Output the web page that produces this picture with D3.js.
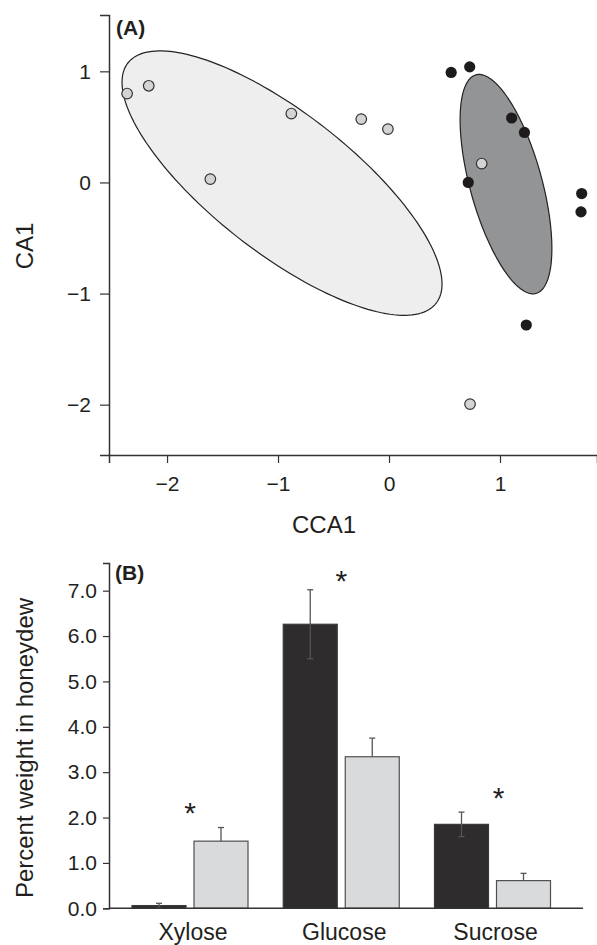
<!DOCTYPE html>
<html><head><meta charset="utf-8">
<script src="https://cdn.jsdelivr.net/npm/d3@7"></script>
<style>
html,body{margin:0;padding:0;background:#fff;}
svg{display:block;font-family:"Liberation Sans",Arial,Helvetica,sans-serif;}
</style></head>
<body>
<svg id="chart" width="597" height="945"></svg>
<script>
// ---------- Panel A data ----------
const lightX = [-2.36, -2.165, -1.61, -0.88, -0.25, -0.01, 0.835, 0.73];
const lightY = [0.80, 0.87, 0.03, 0.62, 0.57, 0.48, 0.17, -1.995];
const darkX  = [0.56, 0.727, 1.105, 1.22, 0.714, 1.736, 1.73, 1.237];
const darkY  = [0.99, 1.04, 0.58, 0.45, 0.0, -0.10, -0.265, -1.283];
// ellipses: centre x, centre y, semi-major, semi-minor, angle (deg, data space)
const ellipseLight = {cx: -0.964, cy: -0.006, a: 1.76, b: 0.63, angle: -37.9};
const ellipseDark  = {cx: 1.054, cy: -0.015, a: 1.02, b: 0.324, angle: -74.6};
const ticksA_x = [-2, -1, 0, 1];
const ticksA_y = [-2, -1, 0, 1];

// ---------- Panel B data ----------
const sugars = ["Xylose", "Glucose", "Sucrose"];
const seriesB = ["dark", "light"];
const meanDark  = [0.06, 6.26, 1.85];
const errDark   = [0.05, 0.76, 0.27];
const meanLight = [1.48, 3.34, 0.61];
const errLight  = [0.30, 0.41, 0.16];
const starY     = [2.24, 7.35, 2.57];
const starShift = [0, 0, 6];
const ticksB_y  = [0, 1, 2, 3, 4, 5, 6, 7];

const svg = d3.select("#chart");
const ink = "#231f20";

// ================= Panel A =================
const xA = d3.scaleLinear().domain([-2.523, 1.874]).range([109, 597]);
const yA = d3.scaleLinear().domain([-2.453, 1.507]).range([455, 15]);

function ellipsePts(e) {
  const th = e.angle * Math.PI / 180;
  return d3.range(0, 360, 2).map(d => {
    const t = d * Math.PI / 180;
    const ex = e.a * Math.cos(t), ey = e.b * Math.sin(t);
    return [e.cx + ex * Math.cos(th) - ey * Math.sin(th),
            e.cy + ex * Math.sin(th) + ey * Math.cos(th)];
  });
}
const lineA = d3.line().x(d => xA(d[0])).y(d => yA(d[1])).curve(d3.curveLinearClosed);

const gA = svg.append("g");
gA.append("path").attr("d", lineA(ellipsePts(ellipseLight)))
  .attr("fill", "#eeeeef").attr("stroke", "#222").attr("stroke-width", 1.2);
gA.append("path").attr("d", lineA(ellipsePts(ellipseDark)))
  .attr("fill", "#939496").attr("stroke", "#222").attr("stroke-width", 1.2);

const ptsLight = lightX.map((x, i) => ({x, y: lightY[i]}));
const ptsDark  = darkX.map((x, i) => ({x, y: darkY[i]}));
gA.selectAll("circle.l").data(ptsLight).join("circle").attr("class", "l")
  .attr("cx", d => xA(d.x)).attr("cy", d => yA(d.y)).attr("r", 5.3)
  .attr("fill", "#d4d4d5").attr("stroke", "#333").attr("stroke-width", 1.2);
gA.selectAll("circle.d").data(ptsDark).join("circle").attr("class", "d")
  .attr("cx", d => xA(d.x)).attr("cy", d => yA(d.y)).attr("r", 5.6)
  .attr("fill", "#1d1b1c");

// axes A
const axAx = gA.append("g").attr("transform", "translate(0,455)")
  .call(d3.axisBottom(xA).tickValues(ticksA_x).tickFormat(d3.format("d")).tickSizeOuter(0).tickSize(8).tickPadding(13));
const axAy = gA.append("g").attr("transform", "translate(109,0)")
  .call(d3.axisLeft(yA).tickValues(ticksA_y).tickFormat(d3.format("d")).tickSizeOuter(0).tickSize(9).tickPadding(9));
[axAx, axAy].forEach(a => {
  a.select(".domain").attr("stroke", "#333").attr("stroke-width", 1.5);
  a.selectAll(".tick line").attr("stroke", "#333").attr("stroke-width", 1.2);
  a.selectAll(".tick text").attr("fill", ink).style("font-size", "21px");
});
gA.append("text").attr("x", 116).attr("y", 35).attr("font-weight", "bold")
  .attr("font-size", 21).attr("fill", ink).text("(A)");
gA.append("text").attr("transform", "translate(33,246) rotate(-90)")
  .attr("text-anchor", "middle").attr("font-size", 24).attr("fill", ink).text("CA1");
gA.append("text").attr("x", 324).attr("y", 533)
  .attr("text-anchor", "middle").attr("font-size", 24).attr("fill", ink).text("CCA1");

// ================= Panel B =================
const x0 = d3.scaleBand().domain(sugars).range([109, 573.5]).paddingInner(0.233).paddingOuter(0.152);
const x1 = d3.scaleBand().domain(seriesB).range([0, x0.bandwidth()]).paddingInner(0.129);
const yB = d3.scaleLinear().domain([0, 7.61]).range([908.3, 563]);

const barData = [];
sugars.forEach((s, i) => {
  barData.push({cat: s, ser: "dark", v: meanDark[i], e: errDark[i]});
  barData.push({cat: s, ser: "light", v: meanLight[i], e: errLight[i]});
});
const fillB = {dark: "#2e2c2d", light: "#d9dadc"};
const strokeB = {dark: "#3a3a3a", light: "#505050"};

const gB = svg.append("g");
gB.selectAll("rect.bar").data(barData).join("rect").attr("class", "bar")
  .attr("x", d => x0(d.cat) + x1(d.ser)).attr("width", x1.bandwidth())
  .attr("y", d => yB(d.v)).attr("height", d => yB(0) - yB(d.v))
  .attr("fill", d => fillB[d.ser]).attr("stroke", d => strokeB[d.ser]).attr("stroke-width", 1.2);

// error bars
const eb = gB.selectAll("g.err").data(barData).join("g").attr("class", "err")
  .attr("stroke", "#555").attr("stroke-width", 1.3);
const cx = d => x0(d.cat) + x1(d.ser) + x1.bandwidth() / 2;
eb.append("line").attr("x1", cx).attr("x2", cx)
  .attr("y1", d => d.ser === "dark" ? yB(d.v - d.e) : yB(d.v)).attr("y2", d => yB(d.v + d.e));
eb.append("line").attr("x1", d => cx(d) - 3).attr("x2", d => cx(d) + 3)
  .attr("y1", d => yB(d.v + d.e)).attr("y2", d => yB(d.v + d.e));
eb.filter(d => d.ser === "dark").append("line").attr("x1", d => cx(d) - 3).attr("x2", d => cx(d) + 3)
  .attr("y1", d => yB(d.v - d.e)).attr("y2", d => yB(d.v - d.e));

// asterisks
gB.selectAll("text.star").data(sugars).join("text").attr("class", "star")
  .attr("x", (d, i) => x0(d) + x0.bandwidth() / 2 + starShift[i]).attr("y", (d, i) => yB(starY[i]) + 16)
  .attr("text-anchor", "middle").attr("font-size", 30).attr("fill", ink).text("*");

// axes B
const axBy = gB.append("g").attr("transform", "translate(109,0)")
  .call(d3.axisLeft(yB).tickValues(ticksB_y).tickFormat(d3.format(".1f")).tickSizeOuter(0).tickSize(6).tickPadding(6));
axBy.select(".domain").attr("stroke", "#333").attr("stroke-width", 1.5);
axBy.selectAll(".tick line").attr("stroke", "#333").attr("stroke-width", 1.2);
axBy.selectAll(".tick text").attr("fill", ink).style("font-size", "21px");
gB.append("line").attr("x1", 109).attr("x2", 583).attr("y1", yB(0)).attr("y2", yB(0))
  .attr("stroke", "#333").attr("stroke-width", 1.5);
gB.selectAll("text.cat").data(sugars).join("text").attr("class", "cat")
  .attr("x", d => x0(d) + x0.bandwidth() / 2 + 3).attr("y", 940)
  .attr("text-anchor", "middle").attr("font-size", 23).attr("fill", ink).text(d => d);
gB.append("text").attr("x", 115).attr("y", 580).attr("font-weight", "bold")
  .attr("font-size", 21).attr("fill", ink).text("(B)");
gB.append("text").attr("transform", "translate(33,748) rotate(-90)")
  .attr("text-anchor", "middle").attr("font-size", 24).attr("fill", ink).text("Percent weight in honeydew");
</script>
</body></html>
